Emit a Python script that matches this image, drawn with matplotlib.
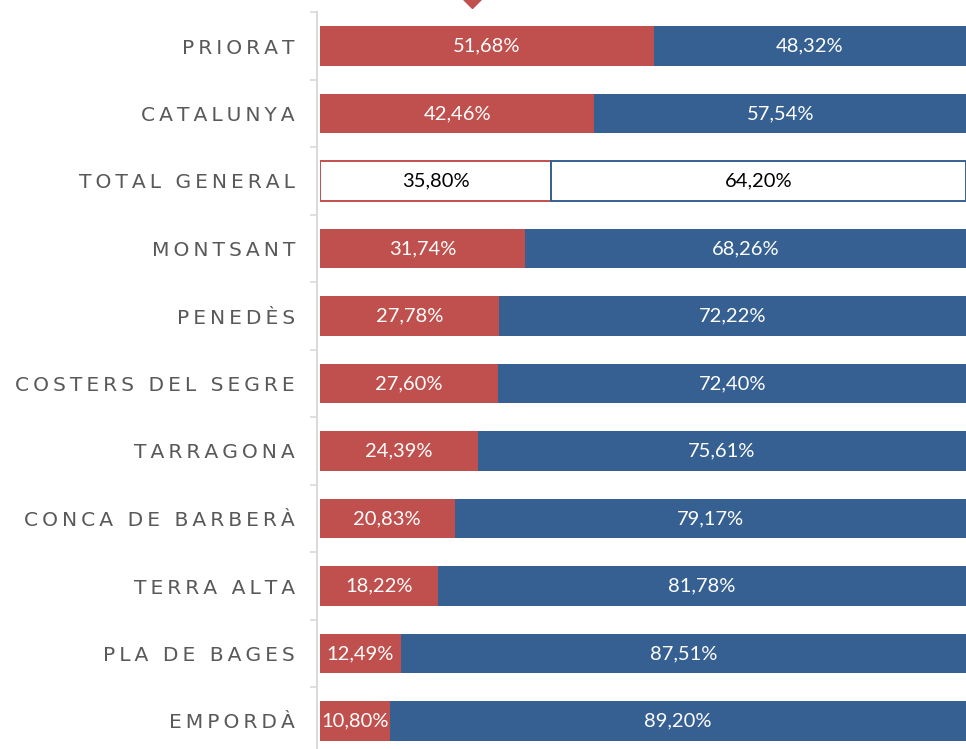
import matplotlib
matplotlib.use('agg')
import matplotlib.pyplot as plt
import numpy as np

# categories, top to bottom
categories = ['PRIORAT', 'CATALUNYA', 'TOTAL GENERAL', 'MONTSANT', 'PENEDÈS',
              'COSTERS DEL SEGRE', 'TARRAGONA', 'CONCA DE BARBERÀ', 'TERRA ALTA',
              'PLA DE BAGES', 'EMPORDÀ']
red_share = [51.68, 42.46, 35.80, 31.74, 27.78, 27.60, 24.39, 20.83, 18.22, 12.49, 10.80]
blue_share = [48.32, 57.54, 64.20, 68.26, 72.22, 72.40, 75.61, 79.17, 81.78, 87.51, 89.20]
highlight = 'TOTAL GENERAL'

RED = '#C0504D'
BLUE = '#366092'


# letter-spaced label, like the original typography
def spaced(s):
    return '\u2009'.join(s)


def fmt(v):
    return f'{v:.2f}%'.replace('.', ',')


fig = plt.figure(figsize=(9.66, 7.49), dpi=100)
W, H = 966, 749
top_px, bottom_px = 12.25, 754.75
ax = fig.add_axes([320 / W, (H - bottom_px) / H, 646 / W, (bottom_px - top_px) / H])

y = np.arange(len(categories))
red = np.array(red_share) / 100
blue = np.array(blue_share) / 100
bar_h = 0.58

for i, cat in enumerate(categories):
    if cat == highlight:
        ax.barh(y[i], red[i], height=bar_h, color='white', edgecolor=RED, linewidth=1.4)
        ax.barh(y[i], blue[i], left=red[i], height=bar_h, color='white',
                edgecolor=BLUE, linewidth=1.4)
        tc = 'black'
    else:
        ax.barh(y[i], red[i], height=bar_h, color=RED)
        ax.barh(y[i], blue[i], left=red[i], height=bar_h, color=BLUE)
        tc = 'white'
    ax.text(red[i] / 2, y[i], fmt(red_share[i]), ha='center', va='center',
            color=tc, fontsize=14.5, family=['Lato', 'DejaVu Sans'])
    ax.text(red[i] + blue[i] / 2, y[i], fmt(blue_share[i]), ha='center', va='center',
            color=tc, fontsize=14.5, family=['Lato', 'DejaVu Sans'])

ax.set_xlim(0, 1.0)
ax.set_ylim(len(categories) - 0.5, -0.5)
ax.set_xticks([])

ax.set_yticks(y)
ax.set_yticklabels([spaced(c) for c in categories])
ax.set_yticks(np.arange(len(categories) + 1) - 0.5, minor=True)
ax.tick_params(axis='y', which='major', length=0, pad=16,
               labelsize=14.6, labelcolor='#595959')
ax.tick_params(axis='y', which='minor', length=5, width=1.2, color='#D9D9D9')
for lbl in ax.get_yticklabels():
    lbl.set_fontfamily(['Liberation Sans', 'DejaVu Sans'])

for s in ['top', 'right', 'bottom']:
    ax.spines[s].set_visible(False)
ax.spines['left'].set_color('#D9D9D9')
ax.spines['left'].set_linewidth(1.4)
ax.spines['left'].set_position(('outward', 2))

# small red marker cut off at the top edge
fig.lines.append(plt.Line2D([472 / W], [1.0 + 1 / H], marker='D', markersize=9,
                            color=RED, transform=fig.transFigure, clip_on=False))

fig.savefig('out.png', dpi=100)
plt.close(fig)
